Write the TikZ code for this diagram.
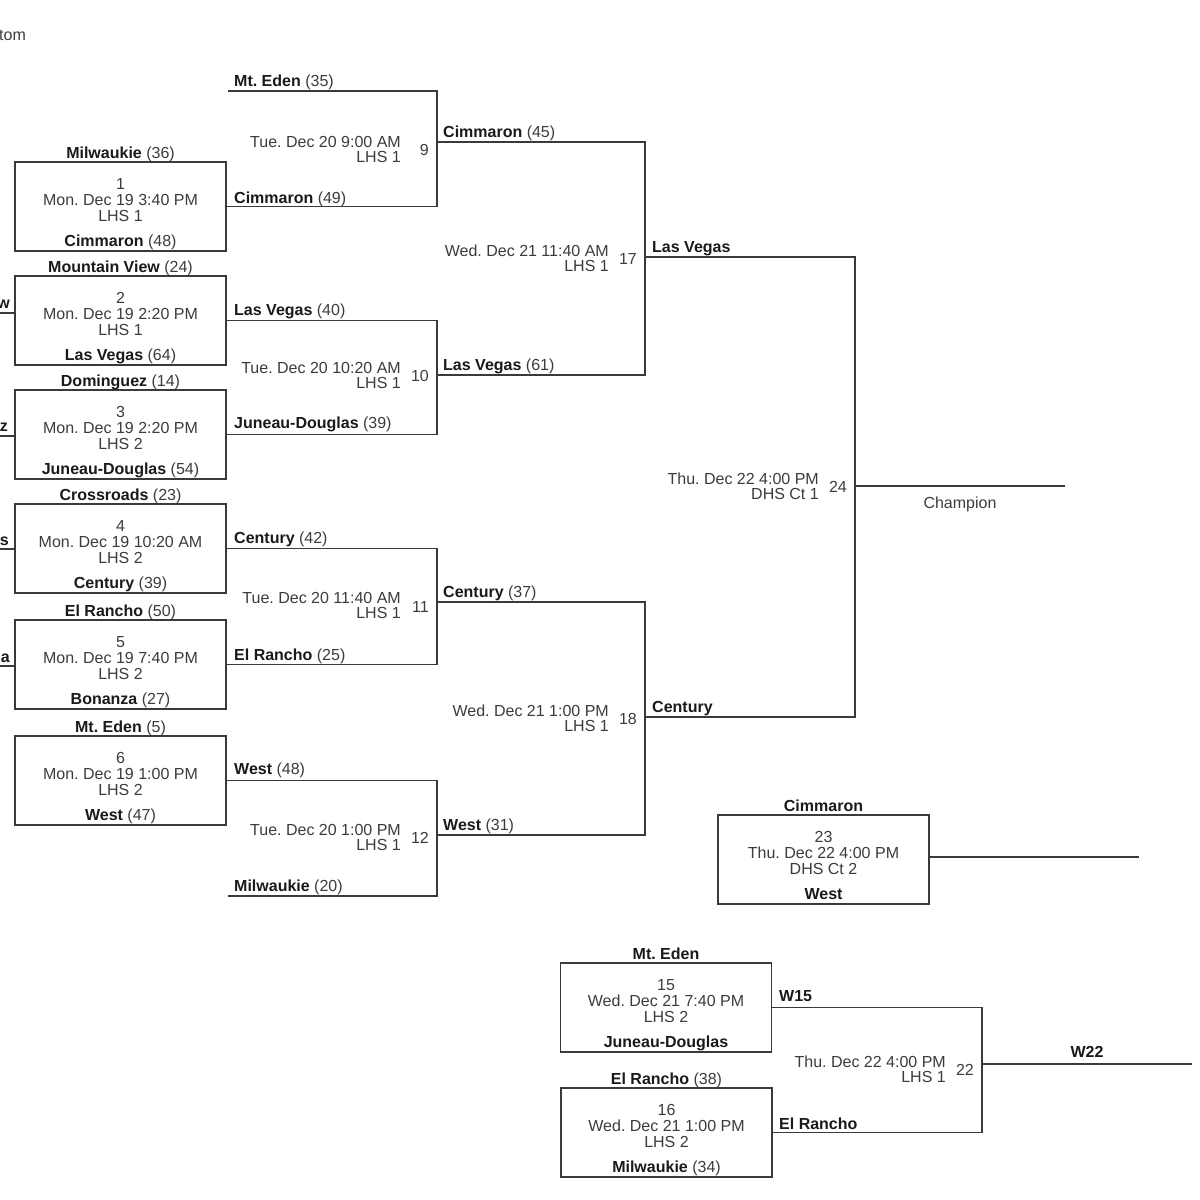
\documentclass[tikz,border=0pt]{standalone}
\usepackage{fontspec}
\setmainfont{Liberation Sans}
\frenchspacing
\definecolor{lc}{HTML}{3A3A3A}
\definecolor{tg}{HTML}{3C3C3C}
\definecolor{tk}{HTML}{1A1A1A}
\newcommand\tmS[2]{\textbf{\color{tk}#1} (#2)}
\newcommand\tmB[1]{\textbf{\color{tk}#1}}
\tikzset{
  ln/.style={draw=lc, line width=1.8pt},
  bx/.style={draw=lc, line width=1.8pt, minimum width=211pt, minimum height=89pt, inner sep=0pt},
  tr/.style={text=tg, anchor=base, inner sep=0pt},
  lbl/.style={text=tg, anchor=base west, inner sep=0pt},
}
% name, cx, top, num, date, place, toplabel, bottomlabel
\newcommand\gamebox[8]{%
  \node[bx] (#1) at (#2,{#3+44.5}) {};
  \node[tr] (#1n) at (#2,{#3+27}) {#4};
  \node[tr] (#1d) at (#2,{#3+43}) {#5};
  \node[tr] (#1p) at (#2,{#3+59}) {#6};
  \node[tr] (#1t) at (#2,{#3-4}) {#7};
  \node[tr] (#1b) at (#2,{#3+84}) {#8};
}
% name, vx, date centre y, number centre y, date, place, number
\newcommand\matchtxt[7]{%
  \node[tr, anchor=base east] (#1d) at ({#2-36},{#3+6}) {#5};
  \node[tr, anchor=base east] (#1p) at ({#2-36},{#3+21}) {#6};
  \node[tr, anchor=base east] (#1n) at ({#2-8},{#4+6}) {#7};
}
\begin{document}
\begin{tikzpicture}[x=1pt, y=-1pt, font=\fontsize{16}{18}\selectfont]
\useasboundingbox[fill=white] (0,0) rectangle (1200,1200);

\node[lbl] (tomlbl) at (-1,40) {tom};

% first round boxes
\gamebox{m1}{120.5}{162}{1}{Mon. Dec 19 3:40 PM}{LHS 1}{\tmS{Milwaukie}{36}}{\tmS{Cimmaron}{48}}
\gamebox{m2}{120.5}{276}{2}{Mon. Dec 19 2:20 PM}{LHS 1}{\tmS{Mountain View}{24}}{\tmS{Las Vegas}{64}}
\gamebox{m3}{120.5}{390}{3}{Mon. Dec 19 2:20 PM}{LHS 2}{\tmS{Dominguez}{14}}{\tmS{Juneau-Douglas}{54}}
\gamebox{m4}{120.5}{504}{4}{Mon. Dec 19 10:20 AM}{LHS 2}{\tmS{Crossroads}{23}}{\tmS{Century}{39}}
\gamebox{m5}{120.5}{620}{5}{Mon. Dec 19 7:40 PM}{LHS 2}{\tmS{El Rancho}{50}}{\tmS{Bonanza}{27}}
\gamebox{m6}{120.5}{736}{6}{Mon. Dec 19 1:00 PM}{LHS 2}{\tmS{Mt. Eden}{5}}{\tmS{West}{47}}

% left stubs
\coordinate (s2) at (0,313);
\coordinate (s3) at (0,436);
\coordinate (s4) at (0,549);
\coordinate (s5) at (0,666);
\draw[ln] (s2) -- (m2.west |- s2);
\draw[ln] (s3) -- (m3.west |- s3);
\draw[ln] (s4) -- (m4.west |- s4);
\draw[ln] (s5) -- (m5.west |- s5);
\node[tr, anchor=base east] (w2) at (10,308) {\tmB{w}};
\node[tr, anchor=base east] (w3) at (8,431) {\tmB{z}};
\node[tr, anchor=base east] (w4) at (9,545) {\tmB{s}};
\node[tr, anchor=base east] (w5) at (10,662) {\tmB{a}};

% bracket points
\coordinate (t9) at (228,91);
\coordinate (o9) at (437,142);
\coordinate (o10) at (437,375);
\coordinate (o11) at (437,602);
\coordinate (t12) at (228,896);
\coordinate (o12) at (437,835);
\coordinate (o17) at (645,257);
\coordinate (o18) at (645,717);
\coordinate (o24) at (855,486);
\coordinate (champ) at (1065,486);

\draw[ln] (t9) -| (o9);
\draw[ln] (m1.east) -| (o9);
\draw[ln] (m2.east) -| (o10);
\draw[ln] (m3.east) -| (o10);
\draw[ln] (m4.east) -| (o11);
\draw[ln] (m5.east) -| (o11);
\draw[ln] (m6.east) -| (o12);
\draw[ln] (t12) -| (o12);
\draw[ln] (o9) -| (o17);
\draw[ln] (o10) -| (o17);
\draw[ln] (o11) -| (o18);
\draw[ln] (o12) -| (o18);
\draw[ln] (o17) -| (o24);
\draw[ln] (o18) -| (o24);
\draw[ln] (o24) -- (champ);

% line labels
\node[lbl] (l9a) at (234,86) {\tmS{Mt. Eden}{35}};
\node[lbl] (l9b) at (234,203) {\tmS{Cimmaron}{49}};
\node[lbl] (l10a) at (234,315) {\tmS{Las Vegas}{40}};
\node[lbl] (l10b) at (234,428) {\tmS{Juneau-Douglas}{39}};
\node[lbl] (l11a) at (234,543) {\tmS{Century}{42}};
\node[lbl] (l11b) at (234,660) {\tmS{El Rancho}{25}};
\node[lbl] (l12a) at (234,774) {\tmS{West}{48}};
\node[lbl] (l12b) at (234,891) {\tmS{Milwaukie}{20}};
\node[lbl] (l17a) at (443,137) {\tmS{Cimmaron}{45}};
\node[lbl] (l17b) at (443,370) {\tmS{Las Vegas}{61}};
\node[lbl] (l18a) at (443,597) {\tmS{Century}{37}};
\node[lbl] (l18b) at (443,830) {\tmS{West}{31}};
\node[lbl] (l24a) at (652,252) {\tmB{Las Vegas}};
\node[lbl] (l24b) at (652,712) {\tmB{Century}};
\node[tr] (champlbl) at (960,508) {Champion};

% match texts
\matchtxt{g9}{437}{141}{149}{Tue. Dec 20 9:00 AM}{LHS 1}{9}
\matchtxt{g10}{437}{367}{375}{Tue. Dec 20 10:20 AM}{LHS 1}{10}
\matchtxt{g11}{437}{597}{606}{Tue. Dec 20 11:40 AM}{LHS 1}{11}
\matchtxt{g12}{437}{829}{837}{Tue. Dec 20 1:00 PM}{LHS 1}{12}
\matchtxt{g17}{645}{250}{258}{Wed. Dec 21 11:40 AM}{LHS 1}{17}
\matchtxt{g18}{645}{710}{718}{Wed. Dec 21 1:00 PM}{LHS 1}{18}
\matchtxt{g24}{855}{478}{486}{Thu. Dec 22 4:00 PM}{DHS Ct 1}{24}

% game 23
\gamebox{m23}{823.5}{815}{23}{Thu. Dec 22 4:00 PM}{DHS Ct 2}{\tmB{Cimmaron}}{\tmB{West}}
\coordinate (e23) at (1139,857);
\draw[ln] (m23.east |- e23) -- (e23);

% games 15, 16, 22
\gamebox{m15}{666}{963}{15}{Wed. Dec 21 7:40 PM}{LHS 2}{\tmB{Mt. Eden}}{\tmB{Juneau-Douglas}}
\gamebox{m16}{666.5}{1088}{16}{Wed. Dec 21 1:00 PM}{LHS 2}{\tmS{El Rancho}{38}}{\tmS{Milwaukie}{34}}
\coordinate (o22) at (982,1064);
\coordinate (e22) at (1192,1064);
\draw[ln] (m15.east) -| (o22);
\draw[ln] (m16.east) -| (o22);
\draw[ln] (o22) -- (e22);
\node[lbl] (l22a) at (779,1001) {\tmB{W15}};
\node[lbl] (l22b) at (779,1129) {\tmB{El Rancho}};
\node[tr] (l22c) at (1087,1057) {\tmB{W22}};
\matchtxt{g22}{982}{1061}{1069}{Thu. Dec 22 4:00 PM}{LHS 1}{22}
\end{tikzpicture}
\end{document}
